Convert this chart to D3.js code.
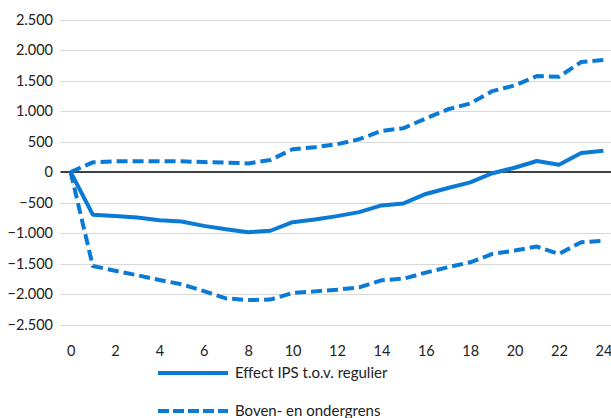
<!DOCTYPE html>
<html>
<head>
<meta charset="utf-8">
<script src="https://cdn.jsdelivr.net/npm/d3@7"></script>
<style>
    body { margin: 0; background: #fff; }
    svg text { font-family: Lato, "Open Sans", sans-serif; fill: #222; }
</style>
</head>
<body>
<div class="chart"></div>
<script>
var months = d3.range(0, 25);

var effect = [0, -700, -720, -746, -790, -812, -883, -938, -987, -963, -822, -778, -723, -658,
    -548, -515, -360, -263, -171, -20, 70, 180, 120, 312, 350];

var upper = [0, 158, 175, 178, 178, 175, 162, 155, 141, 197, 373, 406, 455, 537, 674, 718,
    878, 1028, 1123, 1326, 1419, 1572, 1562, 1803, 1836];

var lower = [0, -1541, -1618, -1692, -1771, -1840, -1952, -2072, -2100, -2092, -1983, -1957,
    -1929, -1891, -1776, -1748, -1650, -1560, -1480, -1343, -1288, -1222, -1343, -1151, -1128];

var yTicks = [2500, 2000, 1500, 1000, 500, 0, -500, -1000, -1500, -2000, -2500];
var xTickLabels = d3.range(0, 25, 2);

var legendNames = ["Effect IPS t.o.v. regulier", "Boven- en ondergrens"];

var blue = "#0a7ad4";

var width = 611, height = 418;

var svg = d3.select(".chart").append("svg")
    .attr("width", width)
    .attr("height", height);

var x = d3.scalePoint()
    .domain(months)
    .range([59.5, 614.5])
    .padding(0.5);

var y = d3.scaleLinear()
    .domain([-2500, 2500])
    .range([324.5, 19.5]);

var fmt = function (v) {
    return d3.format(",")(v).replace(/,/g, ".");
};

// gridlines
svg.append("g").selectAll("line")
    .data(yTicks.filter(function (d) { return d !== 0; }))
    .enter().append("line")
    .attr("x1", 60.5)
    .attr("x2", width)
    .attr("y1", function (d) { return Math.round(y(d)) + 0.5; })
    .attr("y2", function (d) { return Math.round(y(d)) + 0.5; })
    .style("stroke", "#d9d9d9")
    .style("stroke-width", 1.2);

// y labels
var yAxis = d3.axisLeft(y).tickValues(yTicks).tickFormat(fmt).tickSize(0).tickPadding(0);
svg.append("g")
    .attr("transform", "translate(53,0)")
    .call(yAxis)
    .call(function (g) { g.select(".domain").remove(); })
    .selectAll("text")
    .style("font-size", "14.5px")
    .style("font-family", "Lato, sans-serif")
    .attr("fill", "#222");

// x labels
var xAxis = d3.axisBottom(x).tickValues(xTickLabels).tickSize(0).tickPadding(0);
svg.append("g")
    .attr("transform", "translate(0,346)")
    .call(xAxis)
    .call(function (g) { g.select(".domain").remove(); })
    .selectAll("text")
    .style("font-size", "14.5px")
    .style("font-family", "Lato, sans-serif")
    .attr("fill", "#222");

// zero line
svg.append("line")
    .attr("x1", 60.5)
    .attr("x2", width)
    .attr("y1", y(0))
    .attr("y2", y(0))
    .style("stroke", "#000")
    .style("stroke-width", 1.3);

var line = d3.line()
    .x(function (d, i) { return x(months[i]); })
    .y(function (d) { return y(d); });

[upper, lower].forEach(function (s) {
    svg.append("path")
        .attr("d", line(s))
        .style("fill", "none")
        .style("stroke", blue)
        .style("stroke-width", 4)
        .style("stroke-dasharray", "11,5")
        .style("stroke-linejoin", "round");
});

svg.append("path")
    .attr("d", line(effect))
    .style("fill", "none")
    .style("stroke", blue)
    .style("stroke-width", 4)
    .style("stroke-linejoin", "round");

// legend
var legend = svg.selectAll(".legend")
    .data(legendNames)
    .enter().append("g")
    .attr("class", "legend")
    .attr("transform", function (d, i) { return "translate(158," + (373 + i * 38) + ")"; });

legend.append("line")
    .attr("x1", 0)
    .attr("x2", 70)
    .style("stroke", blue)
    .style("stroke-width", 4)
    .style("stroke-dasharray", function (d, i) { return i ? "11,4" : null; });

legend.append("text")
    .attr("x", 77)
    .attr("dy", "0.35em")
    .style("font-size", "15px")
    .text(function (d) { return d; });
</script>
</body>
</html>
